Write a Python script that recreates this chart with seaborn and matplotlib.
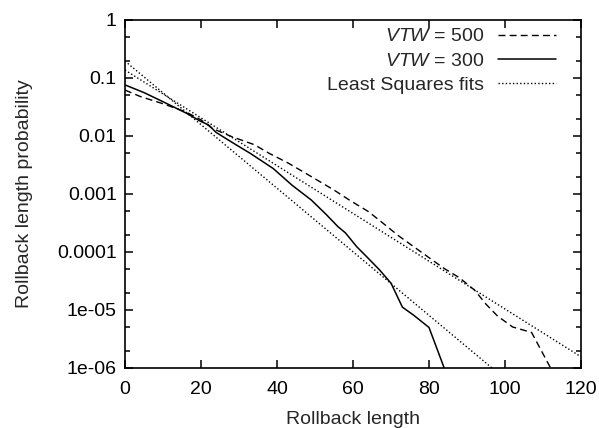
import numpy as np
import pandas as pd
import matplotlib
matplotlib.use("Agg")
import matplotlib.pyplot as plt
from matplotlib.ticker import FixedLocator, FixedFormatter, NullLocator
import seaborn as sns

# ---- data ----
x500 = [0, 4, 10, 16, 20, 23, 28, 34, 38, 43, 49, 55, 59, 64, 67, 72, 79, 84, 88, 92, 95, 98, 102, 107, 112]
y500 = [0.062, 0.048, 0.036, 0.026, 0.019, 0.0135, 0.0098, 0.0071, 0.0050, 0.0034, 0.0020,
        0.00117, 0.00079, 0.00050, 0.00035, 0.00019, 8.9e-05, 5.2e-05, 3.6e-05, 2.2e-05,
        1.26e-05, 7.9e-06, 5.1e-06, 4.1e-06, 1.0e-06]

x300 = [0, 5, 10, 16, 20, 22, 24, 28, 33, 35.5, 39, 44, 49, 53, 56, 58, 61, 64, 67, 70, 73, 76, 80, 84]
y300 = [0.076, 0.056, 0.039, 0.025, 0.0178, 0.0155, 0.0115, 0.0079, 0.0050, 0.0039, 0.00275,
        0.00141, 0.00079, 0.00044, 0.000275, 0.000214, 0.000123, 7.8e-05, 4.9e-05, 2.9e-05,
        1.12e-05, 8.1e-06, 5.0e-06, 1.0e-06]

fit_x = [0, 120]
fit500 = [0.137, 1.56e-06]
fit300 = [0.196, 5.2e-08]

yticks = [1e-6, 1e-5, 1e-4, 1e-3, 1e-2, 1e-1, 1]
ytick_labels = ["1e-06", "1e-05", "0.0001", "0.001", "0.01", "0.1", "1"]
xticks = [0, 20, 40, 60, 80, 100, 120]

FS = 14

sns.set_style("ticks")
plt.rcParams["font.family"] = ["Liberation Sans", "DejaVu Sans"]
plt.rcParams["mathtext.fontset"] = "custom"
plt.rcParams["mathtext.rm"] = "Liberation Sans"
plt.rcParams["mathtext.it"] = "Liberation Sans:italic"

fig = plt.figure(figsize=(5.99, 4.28), dpi=100)
ax = fig.add_axes([125/599, 1-368/428, (581-125)/599, (368-20)/428])

d500 = pd.DataFrame({"x": x500, "y": y500})
d300 = pd.DataFrame({"x": x300, "y": y300})
df5 = pd.DataFrame({"x": fit_x, "y": fit500})
df3 = pd.DataFrame({"x": fit_x, "y": fit300})

sns.lineplot(data=d500, x="x", y="y", ax=ax, color="black", lw=1.0,
             linestyle=(0, (5, 3)), label=r"$VTW$ = 500", estimator=None, sort=False)
sns.lineplot(data=d300, x="x", y="y", ax=ax, color="black", lw=1.1,
             linestyle="-", label=r"$VTW$ = 300", estimator=None, sort=False)
sns.lineplot(data=df5, x="x", y="y", ax=ax, color="black", lw=1.0,
             linestyle=(0, (1, 1.6)), label="Least Squares fits", estimator=None, sort=False)
sns.lineplot(data=df3, x="x", y="y", ax=ax, color="black", lw=1.0,
             linestyle=(0, (1, 1.6)), label="_nolegend_", estimator=None, sort=False)

ax.set_yscale("log")
ax.set_xlim(0, 120)
ax.set_ylim(1e-6, 1)
ax.xaxis.set_major_locator(FixedLocator(xticks))
ax.xaxis.set_minor_locator(NullLocator())
ax.yaxis.set_major_locator(FixedLocator(yticks))
ax.yaxis.set_major_formatter(FixedFormatter(ytick_labels))
minors = [m * 10.0**e for e in range(-6, 0) for m in (2, 5)]
ax.yaxis.set_minor_locator(FixedLocator(minors))
ax.yaxis.set_minor_formatter(FixedFormatter([""] * len(minors)))

for s in ax.spines.values():
    s.set_visible(True)
    s.set_linewidth(1.2)
    s.set_color("black")
ax.tick_params(which="both", direction="in", top=True, right=True, colors="black",
               labelsize=FS, width=1.1)
ax.tick_params(which="major", length=6, pad=6)
ax.tick_params(which="minor", length=3.5)
ax.tick_params(axis="x", which="major", pad=9)

ax.set_xlabel("Rollback length", fontsize=FS, labelpad=10)
ax.set_ylabel("Rollback length probability", fontsize=FS, labelpad=17)

leg = ax.legend(loc="upper right", frameon=False, markerfirst=False, fontsize=FS,
                handlelength=3.0, handletextpad=0.7, labelspacing=0.35,
                borderaxespad=0.0, bbox_to_anchor=(0.963, 1.0))
for t in leg.get_texts():
    t.set_ha("right")
leg._legend_box.align = "right"

fig.savefig("out.png", dpi=100)
